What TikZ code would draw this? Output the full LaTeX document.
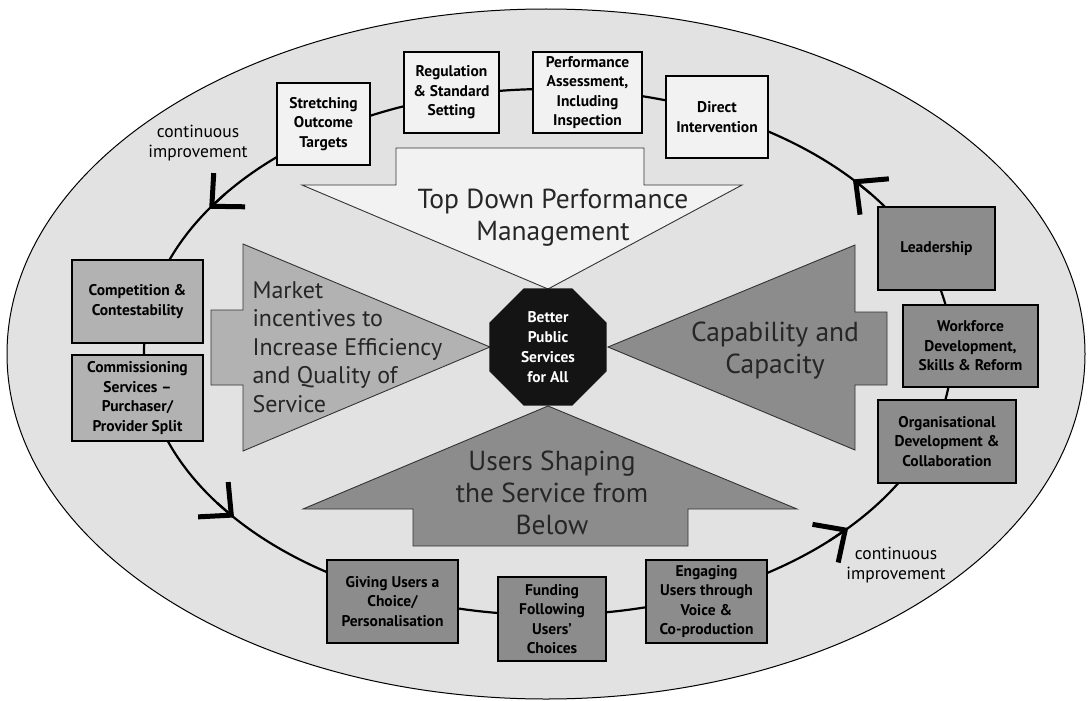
\documentclass[tikz,border=0pt]{standalone}
\usepackage{fontspec}
\setmainfont{PT Sans}
\usetikzlibrary{shapes.geometric,arrows.meta,calc}
\tikzset{>=latex}
\definecolor{ovalgrey}{RGB}{226,226,226}
\definecolor{palegrey}{RGB}{242,242,242}
\definecolor{midgrey}{RGB}{178,178,178}
\definecolor{darkgrey}{RGB}{140,140,140}
\definecolor{inkgrey}{RGB}{38,38,38}
\tikzset{
  box/.style={draw,line width=1.3pt,align=center,inner sep=0pt,
    font=\bfseries\fontsize{15.5}{19.5}\selectfont},
  topbox/.style={box,fill=palegrey},
  leftbox/.style={box,fill=midgrey},
  darkbox/.style={box,fill=darkgrey},
  bigarrow/.style={draw=black!80,line width=0.9pt},
  arrowtext/.style={text=inkgrey,font=\fontsize{27.5}{32}\selectfont},
  loopline/.style={line width=2.2pt},
  flowtip/.style={-{Straight Barb[length=24pt,width=46pt,line width=5pt]}},
  note/.style={align=center,font=\fontsize{17.5}{20}\selectfont}
}

\begin{document}
\begin{tikzpicture}[x=1pt,y=-1pt]
  \useasboundingbox (0,0) rectangle (1090,701);

  % outer oval
  \fill[white] (0,0) rectangle (1090,701);
  \draw[fill=ovalgrey,line width=1pt]
    (546,354) ellipse [x radius=539pt, y radius=345pt];

  % improvement loop
  \coordinate (hub) at (548,352);
  \draw[loopline] (hub) ellipse [x radius=404pt, y radius=263pt];
  \foreach \a in {41,147,219,318}
    \draw[loopline,flowtip]
      ($(hub)+(\a-4:404pt and 263pt)$) -- ($(hub)+(\a:404pt and 263pt)$);

  % big arrows
  \draw[bigarrow,fill=palegrey] % top down
    (396,148) -- (644,148) -- (644,185) -- (742,185) -- (548,289)
    -- (302,185) -- (396,185) -- cycle;
  \draw[bigarrow,fill=midgrey] % market
    (211,310) -- (243,310) -- (243,244) -- (490,347) -- (243,451)
    -- (243,385) -- (211,385) -- cycle;
  \draw[bigarrow,fill=darkgrey] % capability
    (887,312) -- (855,312) -- (855,245) -- (608,347) -- (855,450)
    -- (855,385) -- (887,385) -- cycle;
  \draw[bigarrow,fill=darkgrey] % users
    (413,546) -- (688,546) -- (688,509) -- (797,509) -- (548,406)
    -- (303,509) -- (413,509) -- cycle;

  \node[arrowtext,align=center] (tdpm) at (553,218)
    {Top Down Performance\\Management};
  \node[arrowtext,align=left,anchor=west,font=\fontsize{24}{28.5}\selectfont]
    (mkt) at (249,347)
    {Market\\incentives to\\Increase Efficiency\\and Quality of\\Service};
  \node[arrowtext,align=center] (cap) at (775,351)
    {Capability and\\Capacity};
  \node[arrowtext,align=center] (usr) at (552,493)
    {Users Shaping\\the Service from\\Below};

  % centre
  \node[regular polygon,regular polygon sides=8,minimum size=127pt,
    fill=black!92,text=white,align=center,inner sep=0pt,
    font=\bfseries\fontsize{15.5}{20}\selectfont] (core) at (548,347)
    {Better\\Public\\Services\\for All};

  % boxes on the loop
  \node[topbox,minimum width=93pt,minimum height=82pt] (targets) at (323.5,124)
    {Stretching\\Outcome\\Targets};
  \node[topbox,minimum width=95pt,minimum height=81pt] (regul) at (451.5,92.5)
    {Regulation\\\& Standard\\Setting};
  \node[topbox,minimum width=109pt,minimum height=81pt] (assess) at (587.5,92.5)
    {Performance\\Assessment,\\Including\\Inspection};
  \node[topbox,minimum width=102pt,minimum height=82pt] (direct) at (717,117)
    {Direct\\Intervention};

  \node[leftbox,minimum width=131pt,minimum height=83pt] (compet) at (137.5,301.5)
    {Competition \&\\Contestability};
  \node[leftbox,minimum width=131pt,minimum height=86pt] (commis) at (137.5,398)
    {Commissioning\\Services --\\Purchaser/\\Provider Split};

  \node[darkbox,minimum width=117pt,minimum height=83pt] (lead) at (936.5,248.5)
    {Leadership};
  \node[darkbox,minimum width=135pt,minimum height=82pt] (workf) at (970.5,346)
    {Workforce\\Development,\\Skills \& Reform};
  \node[darkbox,minimum width=138pt,minimum height=83pt] (orgdev) at (947,441.5)
    {Organisational\\Development \&\\Collaboration};

  \node[darkbox,minimum width=131pt,minimum height=83pt] (choice) at (392.5,601.5)
    {Giving Users a\\Choice/\\Personalisation};
  \node[darkbox,minimum width=108pt,minimum height=84pt] (fund) at (552,619)
    {Funding\\Following\\Users’\\Choices};
  \node[darkbox,minimum width=121pt,minimum height=83pt] (engage) at (706.5,601.5)
    {Engaging\\Users through\\Voice \&\\Co-production};

  % labels
  \node[note] (ci1) at (198,143) {continuous\\improvement};
  \node[note] (ci2) at (896,565) {continuous\\improvement};

\end{tikzpicture}
\end{document}
